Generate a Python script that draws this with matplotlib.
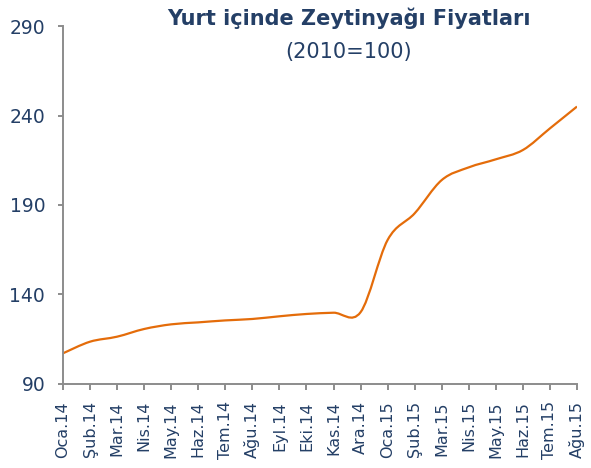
import matplotlib
matplotlib.use('Agg')
import matplotlib.pyplot as plt
from matplotlib.path import Path
from matplotlib.patches import PathPatch
import numpy as np

# Data
months = ['Oca.14', 'Şub.14', 'Mar.14', 'Nis.14', 'May.14', 'Haz.14', 'Tem.14',
          'Ağu.14', 'Eyl.14', 'Eki.14', 'Kas.14', 'Ara.14', 'Oca.15', 'Şub.15',
          'Mar.15', 'Nis.15', 'May.15', 'Haz.15', 'Tem.15', 'Ağu.15']
prices = [107.0, 113.5, 116.3, 120.6, 123.2, 124.3, 125.4, 126.2, 127.7, 129.0,
          129.7, 130.0, 170.4, 185.3, 203.9, 211.0, 215.5, 220.7, 232.8, 245.0]
y_ticks = [90, 140, 190, 240, 290]

text_color = '#243F66'
line_color = '#E46C0A'
axis_color = '#8C8C8C'


def smooth_path(xs, ys):
    # Catmull-Rom style bezier, similar to Excel "smoothed line"
    pts = np.column_stack([xs, ys])
    n = len(pts)
    verts = [pts[0]]
    codes = [Path.MOVETO]
    for i in range(n - 1):
        p0 = pts[i - 1] if i > 0 else pts[i]
        p1 = pts[i]
        p2 = pts[i + 1]
        p3 = pts[i + 2] if i + 2 < n else pts[i + 1]
        c1 = p1 + (p2 - p0) / 6.0
        c2 = p2 - (p3 - p1) / 6.0
        verts += [c1, c2, p2]
        codes += [Path.CURVE4] * 3
    return Path(verts, codes)


fig = plt.figure(figsize=(5.91, 4.68), dpi=100)
ax = fig.add_axes([63 / 591, 1 - 383.7 / 468, (577 - 63) / 591, (383.7 - 26.1) / 468])

x = np.arange(len(months))
ax.add_patch(PathPatch(smooth_path(x, prices), facecolor='none',
                       edgecolor=line_color, linewidth=1.6))

ax.set_xlim(0, len(months) - 1)
ax.set_ylim(90, 290)
ax.set_xticks(x)
ax.set_xticklabels(months, rotation=90, fontsize=11.5, color=text_color)
ax.set_yticks(y_ticks)
ax.set_yticklabels([str(v) for v in y_ticks], fontsize=13.5, color=text_color)

for side in ['top', 'right']:
    ax.spines[side].set_visible(False)
for side in ['left', 'bottom']:
    ax.spines[side].set_color(axis_color)
    ax.spines[side].set_linewidth(1.4)
ax.tick_params(axis='both', colors=axis_color, width=1.4, labelcolor=text_color)
ax.tick_params(axis='y', length=3.8, pad=9)
ax.tick_params(axis='x', length=4.5, pad=8)

fig.text(349 / 591, 1 - 18 / 468, 'Yurt içinde Zeytinyağı Fiyatları',
         ha='center', va='center', fontsize=15, fontweight='bold',
         color=text_color, family=['Liberation Sans Narrow', 'DejaVu Sans'])
fig.text(349 / 591, 1 - 52 / 468, '(2010=100)', ha='center', va='center',
         fontsize=15, color=text_color)

fig.savefig('out.png', dpi=100)
